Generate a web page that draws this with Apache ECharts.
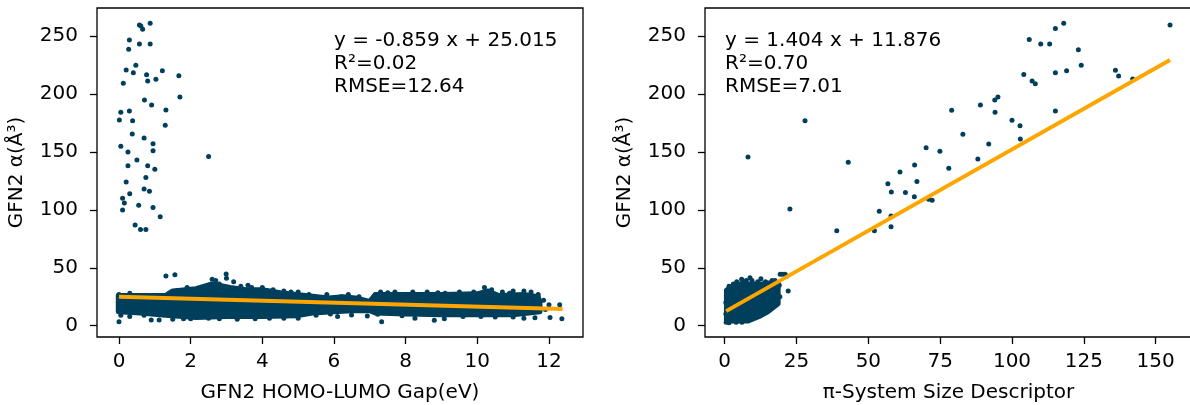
<!DOCTYPE html>
<html>
<head>
<meta charset="utf-8">
<script src="https://cdn.jsdelivr.net/npm/echarts@6/dist/echarts.min.js"></script>
<style>
  html, body { margin: 0; padding: 0; background: #fff; }
  #main { width: 1190px; height: 405px; }
</style>
</head>
<body>
<div id="main"></div>
<script>
// tick labels
const gapTicks = [0, 2, 4, 6, 8, 10, 12];
const piTicks = [0, 25, 50, 75, 100, 125, 150];
const alphaTicks = [0, 50, 100, 150, 200, 250];

// left panel: GFN2 gap vs alpha
// dense band outline (upper edge left->right, lower edge right->left)
const gapBandTop = [[-0.02,26],[0.6,26],[1.3,26],[1.5,30],[2.15,32],[2.6,36],[3.1,33],[3.55,31],[4.0,31],[4.5,28.5],[4.95,27],[5.4,25.5],[5.85,24],[6.25,25],[6.6,24],[7.0,21],[7.15,27],[8.0,27],[9.0,27],[10.0,27.5],[10.3,30],[10.6,26],[11.3,27],[11.7,25],[11.75,20]];
const gapBandBottom = [[11.75,12],[11.0,9.5],[10.0,9.5],[9.0,9.5],[8.0,10],[7.15,11],[7.0,13],[6.5,13],[6.0,12],[5.4,11],[4.95,8.5],[4.0,8],[3.0,8],[2.15,7],[1.3,9],[0.6,11],[-0.02,12]];
// points around the band edges
const gapEdge = [[0.0,27],[0.2,26],[0.4,25],[0.7,26],[0.9,24],[1.1,26],[1.6,30],[1.9,33],[2.3,32],[2.5,35],[2.7,39],[2.8,36],[2.6,40],[3.0,41],[3.2,38],[3.4,34],[3.7,33],[4.0,33],[4.3,31],[4.6,30],[5.0,29],[5.3,27],[5.8,27],[6.2,25],[6.7,25],[7.3,29],[7.7,29],[8.2,29],[8.6,29],[9.1,28],[9.5,29],[9.9,29],[10.2,33],[10.4,31],[10.7,29],[11.0,30],[11.3,30],[11.5,29],[11.7,27],
  [0.3,28],[1.4,28],[2.0,31],[3.6,35],[4.8,29],[6.4,27],[7.5,28.5],[8.9,28.5],[10.9,28],[11.85,22],[11.9,14],
  [1.31,43],[1.56,44],[2.99,44.6],[12.0,18],[12.3,18],[12.03,7],[12.36,6],[0.0,3.5],[1.12,5],[0.9,5],[0.3,8],[0.05,9],[7.33,3.5],[8.26,6.4],[8.8,4.7],[9.08,6],[6.93,8.4],[11.61,6.9],[6.49,9.2],[7.22,9.8],[6.1,8],[5.9,10],[10.1,8],[11.3,6.5],[11.0,7.5],[2.0,6],[3.3,5.5],[5.0,6.5],[4.2,6.5],[1.5,5.5],[2.5,6.5],
  [0.7,9],[1.8,6],[2.8,6],[3.8,6],[4.6,6.5],[5.5,9],[7.9,8.5],[9.6,8],[10.5,7.5]];
// high-alpha outliers
const gapHigh = [[0.57,259.7],[0.66,256],[0.87,261.1],[0.61,258.8],[0.29,246.7],[0.57,243.3],[0.87,243.3],[0.27,238.7],
  [0.20,220.7],[0.40,218.5],[0.47,224.9],[0.77,216.7],[0.80,211.3],[1.03,212.8],[1.21,220.2],[1.67,215.9],[0.12,209.3],
  [0.71,194.9],[0.91,190.6],[1.31,186.3],[1.70,197.5],[0.05,184.3],[0.29,185.4],[0.01,177.6],[0.38,177.0],[1.29,173.1],[0.37,165.5],[0.70,162.1],
  [0.05,155],[0.95,157],[0.25,150],[0.95,151],[0.5,143],[0.8,138],[1.0,135],[0.25,138],[0.75,128],[0.2,124],[0.7,118],[0.85,116],[0.3,114],[0.1,110],[0.15,106],[0.55,104],[0.95,102],[1.15,94],[0.45,87],[0.6,83],[0.75,83],[0.1,100],[2.5,146]];

// right panel: pi-system size vs alpha
const piBandTop = [[0.6,30.5],[2.5,34],[4.5,36],[7,36],[10,36],[13,36],[16,37],[18.6,37]];
const piBandBottom = [[18.6,19],[15,12],[12,8],[8,4],[0.6,4]];
const piEdge = [[1.5,34],[3.0,36],[4.2,38],[5.9,40],[6.5,38],[7.5,39],[8.8,41.5],[9.5,39],[11.5,38],[12.6,40.6],[14.2,38],[16.5,39],[17.5,39],[19.3,44.4],[20.2,44.4],[21.0,44.4],[21.6,43],[22.1,30],[19.0,35],[19.2,25],[0.5,3],[1.5,2.5],[4,3],[6,3],[0.4,10],[0.4,20]];
const piSparse = [[27.95,177.0],[43.0,141.1],[39.0,82.0],[52.1,82.0],[53.8,98.8],[57.9,85.5],[57.9,94.7],[56.8,122.6],[58.0,115.5],[61.0,132.7],[62.9,114.9],[66.0,111.4],[66.1,138.8],[66.9,124.4],[70.1,153.7],[71.0,109.2],[72.2,108.3],[74.9,150.6],[78.0,135.9],[79.0,186.0],[82.9,165.3],[88.1,144.0],[89.0,190.6],[91.9,156.9],[94.0,194.9],[95.1,197.5],[94.1,184.3],[100.0,177.4],[102.8,172.7],[102.9,161.2],[104.1,216.8],[106.0,247.0],[107.0,211.3],[108.1,209.0],[110.0,243.3],[113.1,243.3],[115.1,256.5],[118.0,261.1],[115.1,218.5],[115.1,185.4],[119.0,220.2],[123.1,238.3],[124.1,224.9],[136.0,220.5],[137.1,215.6],[142.0,213.0],[155.0,259.7],[8.1,145.7],[22.7,100.8]];

// fits shown in the panels
const gapFit = { slope: -0.859, intercept: 25.015, from: 0, to: 12.38 };
const piFit = { slope: 1.404, intercept: 11.876, from: 0.5, to: 155 };
const gapStats = ['y = -0.859 x + 25.015', 'R\u00b2=0.02', 'RMSE=12.64'];
const piStats = ['y = 1.404 x + 11.876', 'R\u00b2=0.70', 'RMSE=7.01'];

const DOT = '#003f5c';
const ORANGE = '#ffa500';
const FONT = 'DejaVu Sans';
const FS = 20;

function fitLine(f) {
  return [f.from, f.to].map(x => [x, f.slope * x + f.intercept]);
}

function band(idx, top, bottom) {
  const outline = top.concat(bottom);
  return {
    type: 'custom', xAxisIndex: idx, yAxisIndex: idx, silent: true, z: 1,
    data: [outline[0]],
    renderItem: (params, api) => ({
      type: 'polygon',
      shape: { points: outline.map(p => api.coord(p)) },
      style: { fill: DOT, stroke: DOT, lineWidth: 5, lineJoin: 'round' }
    })
  };
}

function xAxis(idx, min, max, ticks, name) {
  return {
    type: 'value', gridIndex: idx, min: min, max: max,
    name: name, nameLocation: 'middle', nameGap: 46,
    nameTextStyle: { fontFamily: FONT, fontSize: FS, color: '#000' },
    axisLine: { show: false, onZero: false },
    axisTick: { show: true, length: 7, customValues: ticks, lineStyle: { color: '#000', width: 1.3 } },
    axisLabel: { margin: 15, customValues: ticks, fontFamily: FONT, fontSize: FS, color: '#000' },
    splitLine: { show: false }
  };
}

function yAxis(idx) {
  return {
    type: 'value', gridIndex: idx, min: -9.76, max: 274.3,
    name: 'GFN2 \u03b1(\u00c5\u00b3)', nameLocation: 'middle', nameGap: 70,
    nameTextStyle: { fontFamily: FONT, fontSize: FS, color: '#000' },
    axisLine: { show: false, onZero: false },
    axisTick: { show: true, length: 7, customValues: alphaTicks, lineStyle: { color: '#000', width: 1.3 } },
    axisLabel: { margin: 19, customValues: alphaTicks, fontFamily: FONT, fontSize: FS, color: '#000' },
    splitLine: { show: false }
  };
}

function statsText(left, lines) {
  return {
    type: 'text', left: left, top: 29,
    style: { text: lines.join('\n'), fontFamily: FONT, fontSize: FS, lineHeight: 23, fill: '#000' }
  };
}

const gridBase = { top: 8, height: 329, show: true, borderColor: '#000', borderWidth: 1.3, backgroundColor: 'transparent', containLabel: false, outerBoundsMode: 'none' };

const chart = echarts.init(document.getElementById('main'));
chart.setOption({
  animation: false,
  backgroundColor: '#fff',
  grid: [
    Object.assign({ left: 97, width: 486 }, gridBase),
    Object.assign({ left: 705, width: 487 }, gridBase)
  ],
  xAxis: [
    xAxis(0, -0.614, 12.95, gapTicks, 'GFN2 HOMO-LUMO Gap(eV)'),
    xAxis(1, -6.86, 162.65, piTicks, '\u03c0-System Size Descriptor')
  ],
  yAxis: [yAxis(0), yAxis(1)],
  graphic: [statsText(334, gapStats), statsText(725, piStats)],
  series: [
    band(0, gapBandTop, gapBandBottom),
    { type: 'scatter', xAxisIndex: 0, yAxisIndex: 0, z: 2, symbolSize: 5, itemStyle: { color: DOT, opacity: 1 }, data: gapEdge.concat(gapHigh) },
    { type: 'line', xAxisIndex: 0, yAxisIndex: 0, z: 3, showSymbol: false, lineStyle: { color: ORANGE, width: 4 }, data: fitLine(gapFit) },
    band(1, piBandTop, piBandBottom),
    { type: 'scatter', xAxisIndex: 1, yAxisIndex: 1, z: 2, symbolSize: 5, itemStyle: { color: DOT, opacity: 1 }, data: piEdge.concat(piSparse) },
    { type: 'line', xAxisIndex: 1, yAxisIndex: 1, z: 3, showSymbol: false, lineStyle: { color: ORANGE, width: 4 }, data: fitLine(piFit) }
  ]
});
</script>
</body>
</html>
